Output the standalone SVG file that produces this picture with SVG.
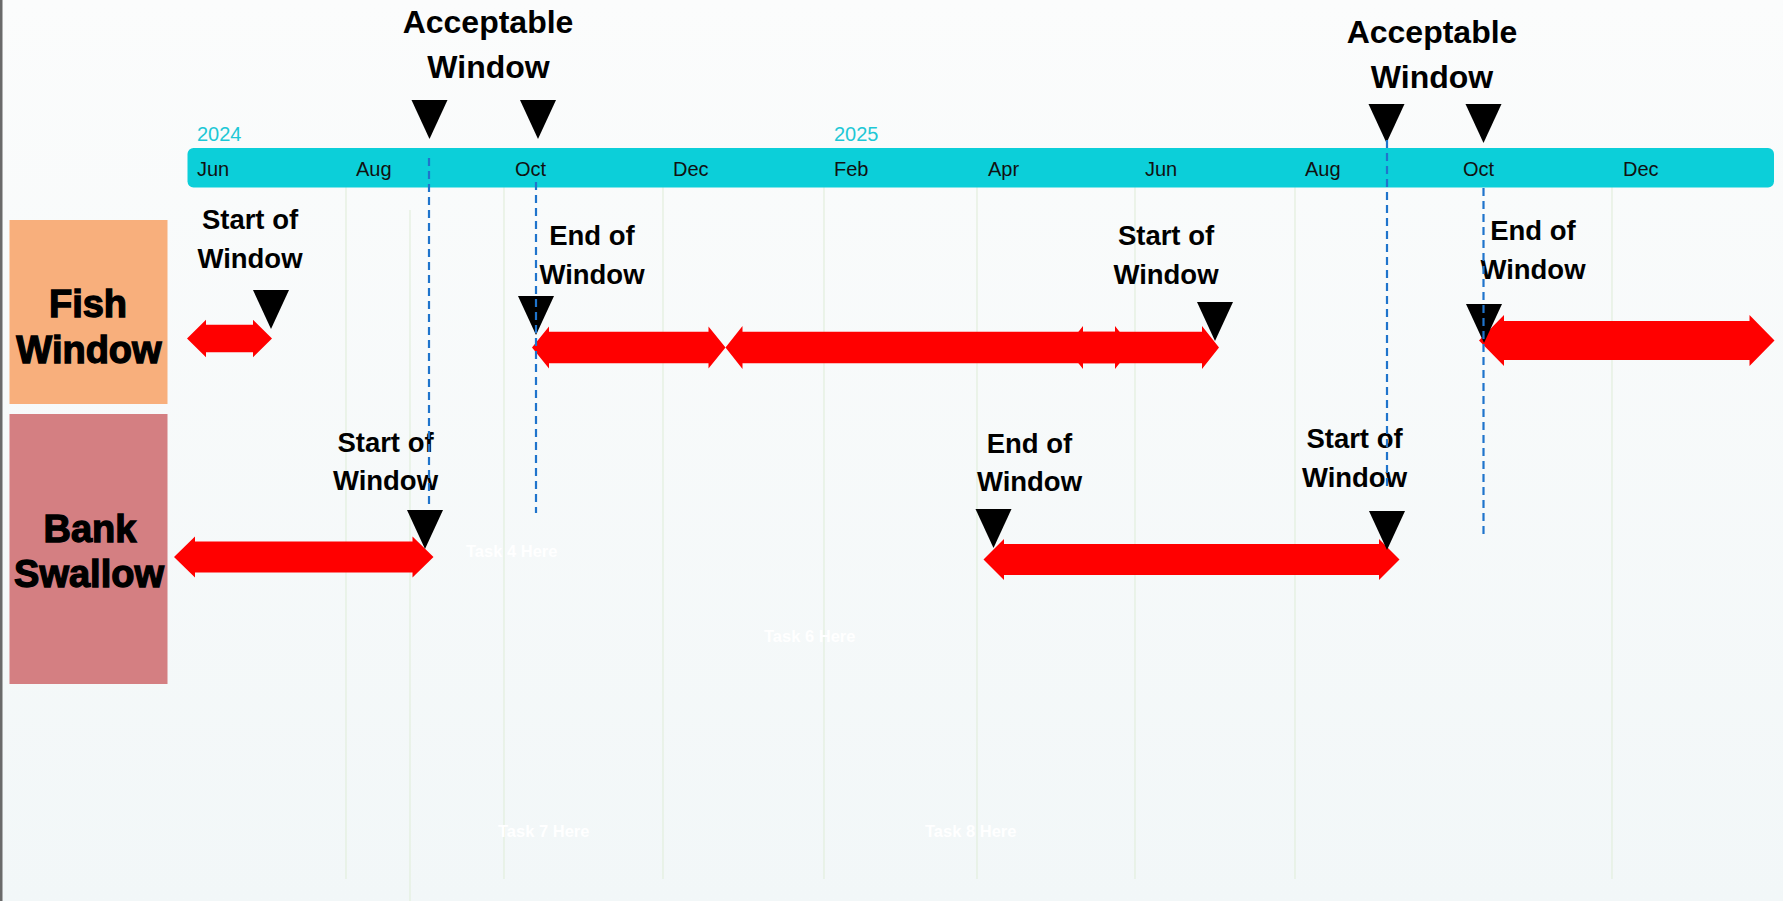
<svg xmlns="http://www.w3.org/2000/svg" width="1783" height="901" viewBox="0 0 1783 901">
<defs>
<linearGradient id="bg" x1="0" y1="0" x2="0" y2="1">
<stop offset="0" stop-color="#fbfcfc"/>
<stop offset="1" stop-color="#f2f7f8"/>
</linearGradient>
<path id="tri" d="M-18 0 L18 0 L0 39 Z" fill="#000"/>
</defs>
<style>
.mon{font-family:"Liberation Sans",Arial,sans-serif;font-size:20px;fill:#111}
.yr{font-family:"Liberation Sans",Arial,sans-serif;font-size:20px;fill:#1ec8d6}
.lbl{font-family:"Liberation Sans",Arial,sans-serif;font-size:27.5px;font-weight:bold;fill:#000;text-anchor:middle}
.acc{font-family:"Liberation Sans",Arial,sans-serif;font-size:32px;font-weight:bold;fill:#000;text-anchor:middle}
.row{font-family:"Liberation Sans",Arial,sans-serif;font-size:38px;font-weight:bold;fill:#000;stroke:#000;stroke-width:1.3;text-anchor:middle}
.task{font-family:"Liberation Sans",Arial,sans-serif;font-size:16.5px;font-weight:bold;fill:#ffffff}
.grid{stroke:#e2eedd;stroke-width:1.2}
.arrow{fill:#ff0000}
.dash{stroke:#1f74cc;stroke-width:2.2;stroke-dasharray:8 5;fill:none}
</style>
<rect x="0" y="0" width="1783" height="901" fill="url(#bg)"/>
<rect x="0" y="0" width="2.5" height="901" fill="#6a6a6a"/>

<g id="grid">
<line class="grid" x1="346" y1="187" x2="346" y2="879"/>
<line class="grid" x1="410" y1="210" x2="410" y2="901"/>
<line class="grid" x1="504" y1="187" x2="504" y2="879"/>
<line class="grid" x1="663" y1="187" x2="663" y2="879"/>
<line class="grid" x1="824" y1="187" x2="824" y2="879"/>
<line class="grid" x1="977" y1="187" x2="977" y2="879"/>
<line class="grid" x1="1135" y1="187" x2="1135" y2="879"/>
<line class="grid" x1="1295" y1="187" x2="1295" y2="879"/>
<line class="grid" x1="1612" y1="187" x2="1612" y2="879"/>
</g>

<g id="timeline">
<rect x="187.5" y="148" width="1586.5" height="39.5" rx="6" fill="#0ccfd9"/>
<text class="yr" x="197" y="141">2024</text>
<text class="yr" x="834" y="141">2025</text>
<text class="mon" x="197" y="176">Jun</text>
<text class="mon" x="356" y="176">Aug</text>
<text class="mon" x="515" y="176">Oct</text>
<text class="mon" x="673" y="176">Dec</text>
<text class="mon" x="834" y="176">Feb</text>
<text class="mon" x="988" y="176">Apr</text>
<text class="mon" x="1145" y="176">Jun</text>
<text class="mon" x="1305" y="176">Aug</text>
<text class="mon" x="1463" y="176">Oct</text>
<text class="mon" x="1623" y="176">Dec</text>
</g>

<g id="row-fish">
<rect x="9.5" y="220" width="158" height="184" fill="#f8af7c"/>
<text class="row" x="88" y="317">Fish</text>
<text class="row" x="89" y="363">Window</text>
</g>
<g id="row-bank">
<rect x="9.5" y="414" width="158" height="270" fill="#d47f82"/>
<text class="row" x="90" y="542">Bank</text>
<text class="row" x="89" y="587">Swallow</text>
</g>

<g id="tasks">
<text class="task" x="466" y="557">Task 4 Here</text>
<text class="task" x="764" y="642">Task 6 Here</text>
<text class="task" x="498" y="837">Task 7 Here</text>
<text class="task" x="925" y="837">Task 8 Here</text>
</g>

<g id="connectors">
<path class="arrow" d="M187 338.5 L206 319.8 L206 324.7 L253 324.7 L253 319.8 L272 338.5 L253 357.2 L253 352.3 L206 352.3 L206 357.2 Z"/>
<path class="arrow" d="M532 347.5 L549 326.5 L549 331.8 L708.5 331.8 L708.5 326.5 L725.5 347.5 L708.5 368.5 L708.5 363.2 L549 363.2 L549 368.5 Z"/>
<path class="arrow" d="M725.5 347.5 L742.5 326 L742.5 331.8 L1115 331.8 L1115 326 L1132 347.5 L1115 369 L1115 363.2 L742.5 363.2 L742.5 369 Z"/>
<path class="arrow" d="M1066 347.5 L1083 326 L1083 331.8 L1202 331.8 L1202 326 L1219 347.5 L1202 369 L1202 363.2 L1083 363.2 L1083 369 Z"/>
<path class="arrow" d="M1479 340.5 L1504 315 L1504 321 L1749.5 321 L1749.5 315 L1774.5 340.5 L1749.5 366 L1749.5 360 L1504 360 L1504 366 Z"/>
<path class="arrow" d="M174 557 L195 536.5 L195 541.5 L412.5 541.5 L412.5 536.5 L433.5 557 L412.5 577.5 L412.5 572.5 L195 572.5 L195 577.5 Z"/>
<path class="arrow" d="M983.5 559.5 L1004 539 L1004 544 L1379 544 L1379 539 L1399.5 559.5 L1379 580 L1379 575 L1004 575 L1004 580 Z"/>
</g>

<g id="acceptable-2024">
<text class="acc" x="488" y="33">Acceptable</text>
<text class="acc" x="488.5" y="78">Window</text>
<use href="#tri" x="429.5" y="100"/>
<use href="#tri" x="538" y="100"/>
</g>
<g id="acceptable-2025">
<text class="acc" x="1432" y="43">Acceptable</text>
<text class="acc" x="1432" y="88">Window</text>
<use href="#tri" x="1386.5" y="104"/>
<use href="#tri" x="1483.5" y="104"/>
</g>

<g id="fish-start-2024">
<text class="lbl" x="250" y="229">Start of</text>
<text class="lbl" x="250" y="268">Window</text>
<use href="#tri" x="271" y="290"/>
</g>
<g id="fish-end-2024">
<text class="lbl" x="592" y="245">End of</text>
<text class="lbl" x="592" y="284">Window</text>
<use href="#tri" x="536" y="296"/>
</g>
<g id="fish-start-2025">
<text class="lbl" x="1166" y="245">Start of</text>
<text class="lbl" x="1166" y="284">Window</text>
<use href="#tri" x="1215" y="302"/>
</g>
<g id="fish-end-2025">
<text class="lbl" x="1533" y="240">End of</text>
<text class="lbl" x="1533" y="279">Window</text>
<use href="#tri" x="1484" y="304"/>
</g>
<g id="bank-start-2024">
<text class="lbl" x="385.5" y="452">Start of</text>
<text class="lbl" x="385.5" y="490">Window</text>
<use href="#tri" x="425" y="510"/>
</g>
<g id="bank-end-2025">
<text class="lbl" x="1029.5" y="453">End of</text>
<text class="lbl" x="1029.5" y="491">Window</text>
<use href="#tri" x="993.5" y="509"/>
</g>
<g id="bank-start-2025">
<text class="lbl" x="1354.5" y="448">Start of</text>
<text class="lbl" x="1354.5" y="487">Window</text>
<use href="#tri" x="1387" y="511"/>
</g>

<g id="guides">
<line class="dash" x1="429" y1="158" x2="429" y2="508"/>
<line class="dash" x1="536" y1="182" x2="536" y2="513"/>
<line class="dash" x1="1387" y1="140" x2="1387" y2="488"/>
<line class="dash" x1="1483.5" y1="188" x2="1483.5" y2="538"/>
</g>
</svg>
